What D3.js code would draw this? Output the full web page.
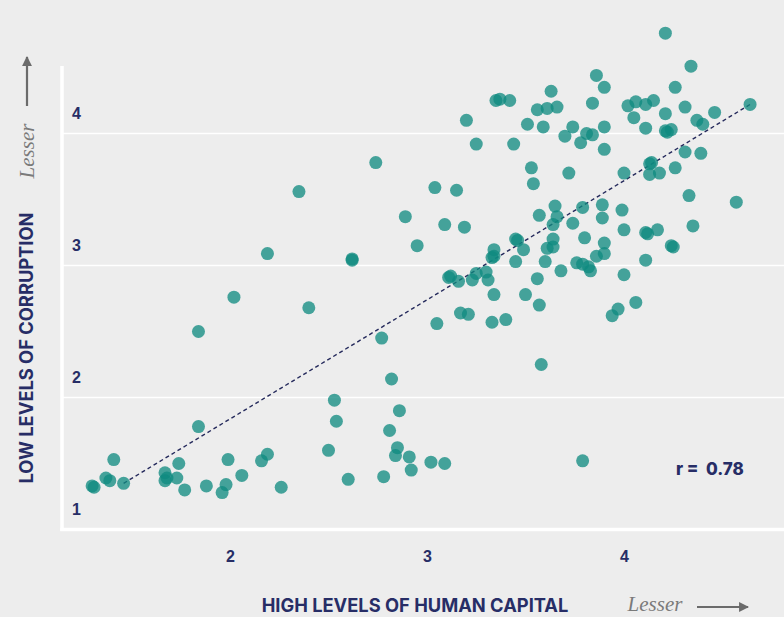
<!DOCTYPE html>
<head>
    <meta charset="utf-8">
    <style>
        body{
            margin:0;
            background:#ededed;
        }
        svg{
            display:block;
            font-family: 'Inter', sans-serif;
        }
        .tick text{
            fill:#272d66;
            font-size:16px;
            font-weight:700;
        }
        .domain{
            display:none;
        }
        .grid line{
            stroke:#ffffff;
            stroke-width:1.5px;
        }
        .title{
            fill:#272d66;
            font-size:18.3px;
            font-weight:700;
        }
        .lesser{
            fill:#7a7a7a;
            font-family:'Liberation Serif', serif;
            font-style:italic;
            font-size:21px;
        }
        .dot{
            fill:#0f8a80;
            fill-opacity:0.76;
        }
        .trend{
            fill:none;
            stroke:#252a5c;
            stroke-width:1.4px;
            stroke-dasharray:4,3;
        }
    </style>
</head>
<body>
    <div id="chart"></div>
    <script src="https://d3js.org/d3.v7.min.js"></script>
    <script>
        // human capital (x) and corruption (y) scores, one entry per country
        var humanCapital = [
            1.30,1.31,1.37,1.39,1.41,1.46,1.67,1.68,1.67,1.73,1.74,1.77,1.88,1.96,1.98,1.99,2.06,2.16,2.19,2.26,
            2.50,2.60,1.84,1.84,2.02,2.19,2.35,2.40,2.62,2.62,2.74,2.77,2.82,2.53,2.54,2.86,2.81,2.85,2.84,2.91,
            2.92,2.78,3.02,3.09,3.79,3.58,3.05,3.17,3.21,3.33,3.40,3.34,3.50,3.57,3.56,3.68,3.94,3.97,4.06,4.00,
            3.11,3.12,3.16,3.23,3.25,3.30,3.31,3.45,3.60,3.76,3.79,3.82,3.83,3.86,4.11,3.90,3.90,3.80,3.64,3.57,
            3.65,3.66,3.74,3.79,3.89,3.89,3.99,4.00,4.11,4.12,4.17,4.24,4.25,4.35,4.33,4.57,3.45,3.46,3.49,3.64,
            3.61,3.64,3.34,3.33,3.34,3.04,3.15,2.89,3.09,3.19,2.95,3.20,3.25,3.35,3.37,3.42,3.44,3.51,3.56,3.61,
            3.59,3.63,3.66,3.70,3.74,3.78,3.81,3.84,3.90,3.90,3.86,3.90,3.84,3.53,3.54,3.72,4.21,4.34,4.26,4.02,
            4.06,4.11,4.15,4.05,4.21,4.31,4.46,4.64,4.37,4.40,4.11,4.21,4.22,4.24,4.31,4.39,4.13,4.14,4.26,4.00,
            4.13,4.18
        ];
        var corruption = [
            1.33,1.32,1.39,1.37,1.53,1.35,1.43,1.39,1.37,1.39,1.50,1.30,1.33,1.28,1.34,1.53,1.41,1.52,1.57,1.32,
            1.60,1.38,1.78,2.50,2.76,3.09,3.56,2.68,3.05,3.04,3.78,2.45,2.14,1.98,1.82,1.90,1.75,1.62,1.56,1.55,
            1.45,1.40,1.51,1.50,1.52,2.25,2.56,2.64,2.63,2.57,2.59,2.78,2.78,2.70,2.90,2.96,2.62,2.67,2.72,2.93,
            2.91,2.92,2.88,2.89,2.94,2.95,2.89,3.03,3.03,3.02,3.01,2.99,2.96,3.07,3.04,3.09,3.17,3.21,3.31,3.38,
            3.45,3.37,3.32,3.44,3.46,3.36,3.42,3.27,3.25,3.24,3.27,3.15,3.14,3.30,3.53,3.48,3.20,3.19,3.12,3.20,
            3.13,3.14,3.12,3.06,3.07,3.59,3.57,3.37,3.31,3.29,3.15,4.10,3.92,4.25,4.26,4.25,3.92,4.07,4.18,4.19,
            4.05,4.32,4.20,3.98,4.05,3.93,4.00,3.99,4.05,3.88,4.44,4.35,4.23,3.74,3.62,3.70,4.76,4.51,4.35,4.21,
            4.24,4.22,4.25,4.12,4.15,4.20,4.16,4.22,4.10,4.07,4.04,4.02,4.01,4.03,3.86,3.85,3.77,3.78,3.74,3.70,
            3.69,3.70
        ];
        var xTicks = [2, 3, 4];
        var yTicks = [1, 2, 3, 4];
        var gridLines = [2, 3, 4];
        var trendX = [1.46, 4.64];
        var trendY = [1.35, 4.22];
        var rValue = "0.78";

        var width = 784, height = 617;
        var left = 62, bottom = 529.5, right = 784;

        var data = humanCapital.map(function(v, i) { return {x: v, y: corruption[i]}; });

        var svg = d3.select("#chart").append("svg")
            .attr("width", width)
            .attr("height", height);

        var x = d3.scaleLinear().domain([2, 4]).range([230, 624]);
        var y = d3.scaleLinear().domain([1, 4]).range([bottom, 133.5]);

        // gridlines
        svg.append("g")
            .attr("class", "grid")
            .selectAll("line")
            .data(gridLines)
            .enter().append("line")
            .attr("x1", left)
            .attr("x2", right)
            .attr("y1", function(d) { return y(d); })
            .attr("y2", function(d) { return y(d); });

        // axis frame lines
        svg.append("line")
            .attr("x1", left).attr("x2", left)
            .attr("y1", 66).attr("y2", bottom + 1.5)
            .attr("stroke", "#fff").attr("stroke-width", 3.5);
        svg.append("line")
            .attr("x1", left - 1.75).attr("x2", right)
            .attr("y1", bottom).attr("y2", bottom)
            .attr("stroke", "#fff").attr("stroke-width", 3.5);

        svg.append("g")
            .attr("transform", "translate(0," + bottom + ")")
            .call(d3.axisBottom(x).tickValues(xTicks).tickSize(0).tickPadding(21).tickFormat(d3.format("d")));

        var yAxis = svg.append("g")
            .attr("transform", "translate(" + 72 + ",0)")
            .call(d3.axisRight(y).tickValues(yTicks).tickSize(0).tickPadding(0).tickFormat(d3.format("d")));
        yAxis.selectAll(".tick text").attr("dy", "-0.95em");

        // trend line
        svg.append("line")
            .attr("class", "trend")
            .attr("x1", x(trendX[0])).attr("y1", y(trendY[0]))
            .attr("x2", x(trendX[1])).attr("y2", y(trendY[1]));

        svg.append("g")
            .selectAll("circle")
            .data(data)
            .enter().append("circle")
            .attr("class", "dot")
            .attr("cx", function(d) { return x(d.x); })
            .attr("cy", function(d) { return y(d.y); })
            .attr("r", 6.5);

        svg.append("text")
            .attr("x", 676)
            .attr("y", 475)
            .attr("fill", "#272d66")
            .attr("font-size", "17px")
            .attr("font-weight", 800)
            .text("r =  " + rValue)
            .attr("xml:space", "preserve");

        // axis titles
        svg.append("text")
            .attr("class", "title")
            .attr("text-anchor", "middle")
            .attr("transform", "translate(33,348) rotate(-90)")
            .text("LOW LEVELS OF CORRUPTION");
        svg.append("text")
            .attr("class", "lesser")
            .attr("text-anchor", "middle")
            .attr("transform", "translate(34,151) rotate(-90)")
            .text("Lesser");

        svg.append("text")
            .attr("class", "title")
            .attr("text-anchor", "middle")
            .attr("x", 415)
            .attr("y", 612)
            .text("HIGH LEVELS OF HUMAN CAPITAL");
        svg.append("text")
            .attr("class", "lesser")
            .attr("text-anchor", "middle")
            .attr("x", 655)
            .attr("y", 611)
            .text("Lesser");

        // arrows
        var defs = svg.append("defs");
        defs.append("marker")
            .attr("id", "head")
            .attr("viewBox", "0 0 10 10")
            .attr("refX", 9).attr("refY", 5)
            .attr("markerWidth", 4.5).attr("markerHeight", 4.5)
            .attr("orient", "auto")
            .append("path")
            .attr("d", "M0,0L10,5L0,10z")
            .attr("fill", "#6b6b6b");

        svg.append("line")
            .attr("x1", 697).attr("x2", 748)
            .attr("y1", 607).attr("y2", 607)
            .attr("stroke", "#6b6b6b").attr("stroke-width", 2.2)
            .attr("marker-end", "url(#head)");
        svg.append("line")
            .attr("x1", 27).attr("x2", 27)
            .attr("y1", 106).attr("y2", 57)
            .attr("stroke", "#6b6b6b").attr("stroke-width", 2.2)
            .attr("marker-end", "url(#head)");
    </script>
</body>
